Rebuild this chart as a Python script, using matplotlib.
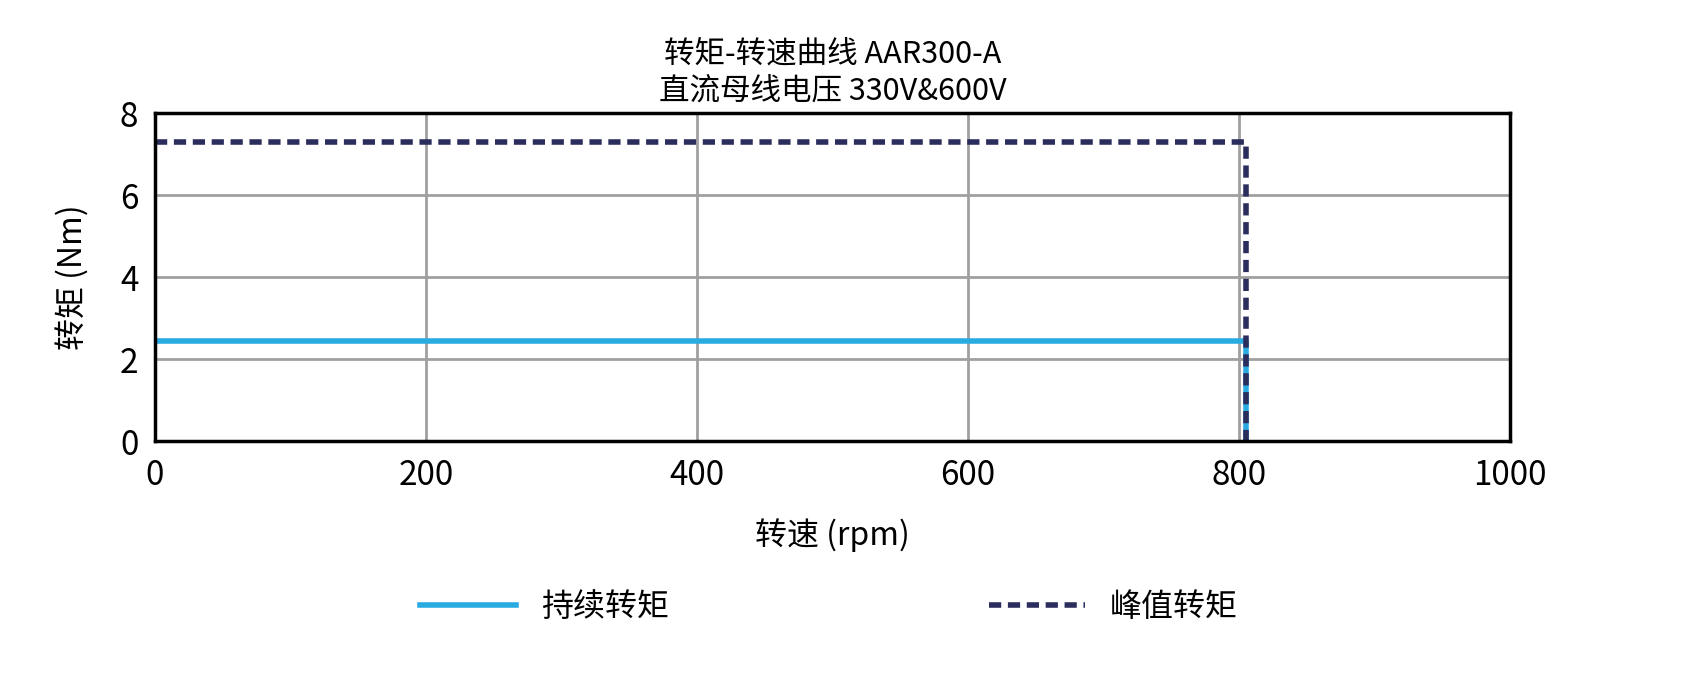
import matplotlib
matplotlib.use("Agg")
import matplotlib.pyplot as plt

plt.rcParams['font.family'] = ['Noto Sans CJK SC', 'DejaVu Sans']

cont_speed = [0, 805, 805]
cont_torque = [2.45, 2.45, 0]
peak_speed = [0, 805, 805]
peak_torque = [7.3, 7.3, 0]

fig = plt.figure(figsize=(16.92, 6.82), dpi=100)
ax = fig.add_axes([0.0916, 0.353, 0.801, 0.481])
ax.plot(cont_speed, cont_torque, color='#29abe2', lw=4, label='持续转矩')
ax.plot(peak_speed, peak_torque, color='#2b2d5c', lw=4, ls=(0, (2.2, 1.2)), label='峰值转矩')
ax.set_xlim(0, 1000)
ax.set_ylim(0, 8)
ax.set_xticks(range(0, 1001, 200))
ax.set_yticks(range(0, 9, 2))
ax.grid(True, color='#a0a0a0', lw=2)
ax.tick_params(labelsize=24, length=0, pad=12)
for s in ax.spines.values():
    s.set_linewidth(2.5)
ax.set_xlabel('转速 (rpm)', fontsize=23, labelpad=18)
ax.set_ylabel('转矩 (Nm)', fontsize=23, labelpad=22)
ax.set_title('转矩-转速曲线 AAR300-A\n直流母线电压 330V&600V', fontsize=22, pad=10, linespacing=1.25)
fig.legend(loc='center', bbox_to_anchor=(0.49, 0.11), ncol=2, frameon=False,
           fontsize=23, columnspacing=10, handlelength=3.0)
fig.savefig('out.png', dpi=100)
